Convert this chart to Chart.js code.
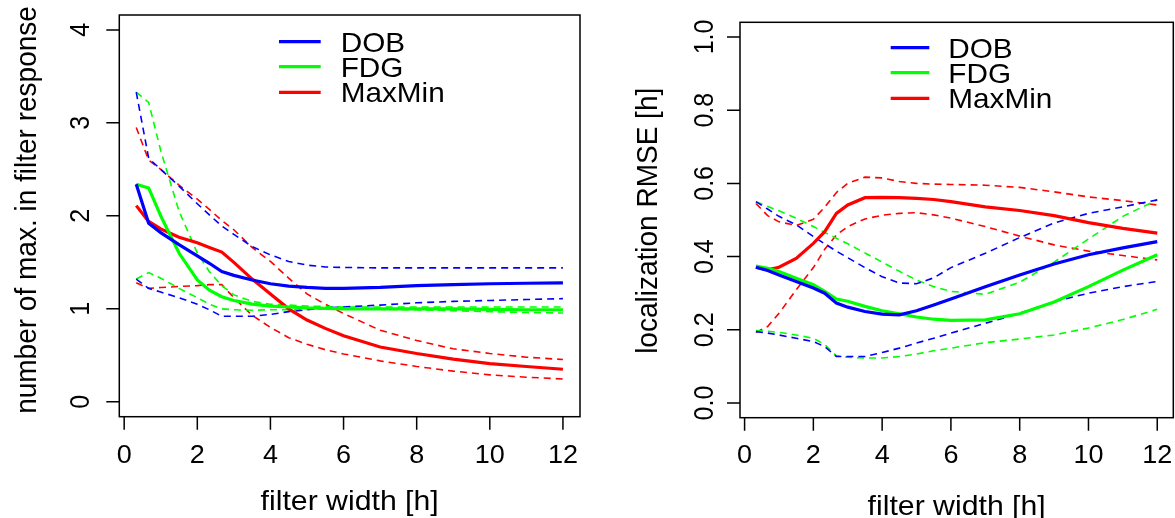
<!DOCTYPE html>
<html>
<head>
<meta charset="utf-8">
<script src="https://cdn.jsdelivr.net/npm/chart.js@4/dist/chart.umd.min.js"></script>
<style>
  html, body { margin: 0; padding: 0; background: #fff; }
  #wrap { position: relative; width: 1175px; height: 518px; overflow: hidden; }
  canvas { position: absolute; top: 0; }
</style>
</head>
<body>
<div id="wrap">
  <canvas id="left" width="600" height="518" style="left:0"></canvas>
  <canvas id="right" width="575" height="518" style="left:600px"></canvas>
</div>
<script>
// filter width [h]
const filterWidth = [0.33, 0.67, 1, 1.5, 2, 2.33, 2.67, 3, 3.5, 4, 4.5, 5, 5.5, 6, 7, 8, 9, 10, 11, 12];

// number of maxima in filter response (mean, upper, lower)
const dobMaxMean = [2.34, 1.92, 1.82, 1.69, 1.57, 1.49, 1.40, 1.36, 1.31, 1.27, 1.245, 1.23, 1.22, 1.22, 1.23, 1.25, 1.26, 1.27, 1.275, 1.28];
const dobMaxHi   = [3.33, 2.62, 2.50, 2.32, 2.13, 2.01, 1.89, 1.80, 1.67, 1.58, 1.51, 1.47, 1.45, 1.445, 1.44, 1.44, 1.44, 1.44, 1.44, 1.44];
const dobMaxLo   = [1.32, 1.22, 1.18, 1.12, 1.05, 0.99, 0.92, 0.92, 0.92, 0.94, 0.97, 0.99, 1.01, 1.02, 1.04, 1.065, 1.08, 1.09, 1.10, 1.11];
const fdgMaxMean = [2.34, 2.30, 2.00, 1.60, 1.31, 1.20, 1.13, 1.09, 1.05, 1.03, 1.02, 1.01, 1.005, 1.0, 1.0, 1.0, 1.0, 0.995, 0.99, 0.99];
const fdgMaxHi   = [3.33, 3.22, 2.70, 2.05, 1.60, 1.40, 1.25, 1.15, 1.08, 1.05, 1.04, 1.03, 1.025, 1.02, 1.02, 1.02, 1.02, 1.02, 1.02, 1.02];
const fdgMaxLo   = [1.32, 1.39, 1.33, 1.22, 1.12, 1.05, 1.0, 0.99, 0.985, 0.99, 0.99, 0.995, 1.0, 1.0, 0.995, 0.99, 0.98, 0.97, 0.96, 0.955];
const mmMaxMean  = [2.11, 1.94, 1.86, 1.77, 1.71, 1.66, 1.61, 1.50, 1.32, 1.16, 1.00, 0.88, 0.79, 0.71, 0.59, 0.52, 0.46, 0.41, 0.38, 0.35];
const mmMaxHi    = [2.95, 2.60, 2.50, 2.33, 2.18, 2.07, 1.95, 1.85, 1.66, 1.51, 1.33, 1.16, 1.05, 0.95, 0.77, 0.66, 0.57, 0.52, 0.48, 0.455];
const mmMaxLo    = [1.28, 1.22, 1.23, 1.24, 1.25, 1.26, 1.26, 1.12, 0.93, 0.80, 0.69, 0.62, 0.56, 0.515, 0.44, 0.38, 0.33, 0.29, 0.265, 0.245];

// localization RMSE [h] (mean, upper, lower)
const dobRmseMean = [0.371, 0.362, 0.350, 0.332, 0.314, 0.300, 0.273, 0.262, 0.250, 0.243, 0.241, 0.252, 0.268, 0.284, 0.318, 0.350, 0.380, 0.405, 0.424, 0.441];
const dobRmseHi   = [0.550, 0.530, 0.510, 0.487, 0.455, 0.435, 0.415, 0.397, 0.370, 0.345, 0.328, 0.326, 0.342, 0.370, 0.409, 0.452, 0.492, 0.518, 0.536, 0.555];
const dobRmseLo   = [0.195, 0.191, 0.186, 0.177, 0.168, 0.154, 0.127, 0.127, 0.127, 0.138, 0.150, 0.164, 0.177, 0.191, 0.218, 0.245, 0.277, 0.300, 0.318, 0.332];
const fdgRmseMean = [0.374, 0.368, 0.359, 0.341, 0.323, 0.305, 0.284, 0.278, 0.264, 0.252, 0.244, 0.235, 0.229, 0.226, 0.227, 0.244, 0.276, 0.318, 0.363, 0.405];
const fdgRmseHi   = [0.550, 0.537, 0.525, 0.505, 0.482, 0.466, 0.450, 0.435, 0.410, 0.385, 0.360, 0.336, 0.318, 0.305, 0.297, 0.330, 0.385, 0.448, 0.510, 0.555];
const fdgRmseLo   = [0.198, 0.196, 0.193, 0.186, 0.177, 0.160, 0.129, 0.125, 0.123, 0.123, 0.127, 0.134, 0.143, 0.150, 0.165, 0.175, 0.186, 0.205, 0.228, 0.256];
const mmRmseMean  = [0.371, 0.364, 0.371, 0.395, 0.436, 0.468, 0.518, 0.541, 0.561, 0.562, 0.561, 0.559, 0.556, 0.550, 0.536, 0.526, 0.512, 0.493, 0.477, 0.464];
const mmRmseHi    = [0.545, 0.512, 0.495, 0.485, 0.502, 0.535, 0.575, 0.600, 0.617, 0.615, 0.605, 0.600, 0.598, 0.597, 0.595, 0.589, 0.577, 0.563, 0.553, 0.541];
const mmRmseLo    = [0.193, 0.209, 0.245, 0.309, 0.370, 0.420, 0.459, 0.482, 0.503, 0.513, 0.518, 0.520, 0.514, 0.505, 0.482, 0.456, 0.432, 0.415, 0.403, 0.391];

const methods = ['DOB', 'FDG', 'MaxMin'];
const colours = ['#0000ff', '#00ff00', '#ff0000'];
const xTicks = [0, 2, 4, 6, 8, 10, 12];
const maxTicks = [0, 1, 2, 3, 4];
const rmseTicks = [0, 0.2, 0.4, 0.6, 0.8, 1.0];

const FONT = "'Liberation Sans', Arial, Helvetica, sans-serif";
const STRETCH = 1.08; // the reference text is a bit wider than tall

// text with a slight horizontal stretch, optionally turned to read upwards
function label(ctx, text, x, y, size, upright) {
  ctx.save();
  ctx.font = size + 'px ' + FONT;
  ctx.translate(x, y);
  ctx.scale(STRETCH, 1);
  if (!upright) ctx.rotate(-Math.PI / 2);
  ctx.fillText(text, 0, 0);
  ctx.restore();
}

// draws R-style box, axes, titles and legend
const rAxes = {
  id: 'rAxes',
  afterDraw(chart, args, o) {
    const ctx = chart.ctx;
    const a = chart.chartArea;
    const xs = chart.scales.x, ys = chart.scales.y;
    ctx.save();
    ctx.strokeStyle = '#000';
    ctx.fillStyle = '#000';
    ctx.lineWidth = 1.5;
    ctx.strokeRect(a.left, a.top, a.right - a.left, a.bottom - a.top);

    // x axis
    ctx.beginPath();
    o.xTicks.forEach(v => {
      const px = xs.getPixelForValue(v);
      ctx.moveTo(px, a.bottom);
      ctx.lineTo(px, a.bottom + 13);
    });
    ctx.stroke();
    ctx.textAlign = 'center';
    ctx.textBaseline = 'alphabetic';
    o.xTicks.forEach(v => label(ctx, String(v), xs.getPixelForValue(v), o.xLabelBase, 25, true));
    label(ctx, o.xTitle, (a.left + a.right) / 2, o.xTitleBase, 28, true);

    // y axis
    ctx.beginPath();
    o.yTicks.forEach(v => {
      const py = ys.getPixelForValue(v);
      ctx.moveTo(a.left, py);
      ctx.lineTo(a.left - 13, py);
    });
    ctx.stroke();
    o.yTicks.forEach(v => label(ctx, v.toFixed(o.yDigits), o.yLabelBase, ys.getPixelForValue(v), 25, false));
    label(ctx, o.yTitle, o.yTitleBase, o.yTitleCenter, 28, false);

    // legend
    ctx.textAlign = 'left';
    ctx.lineWidth = 3.2;
    methods.forEach((m, i) => {
      const ly = o.legendY[i];
      ctx.strokeStyle = colours[i];
      ctx.beginPath();
      ctx.moveTo(o.legendX[0], ly);
      ctx.lineTo(o.legendX[1], ly);
      ctx.stroke();
      label(ctx, m, o.legendX[2], ly + 10, 27.5, true);
    });
    ctx.restore();
  }
};

function series(values, colour, dashed) {
  return {
    data: filterWidth.map((x, i) => ({ x: x, y: values[i] })),
    borderColor: colour,
    borderWidth: dashed ? 1.6 : 3.2,
    borderDash: dashed ? [7, 5] : [],
    pointRadius: 0,
    tension: 0,
    fill: false
  };
}

function makePanel(id, groups, yMin, yMax, padding, axisOpts) {
  const datasets = [];
  groups.forEach((g, i) => datasets.push(series(g[0], colours[i], false)));
  groups.forEach((g, i) => {
    datasets.push(series(g[1], colours[i], true));
    datasets.push(series(g[2], colours[i], true));
  });
  return new Chart(document.getElementById(id).getContext('2d'), {
    type: 'line',
    data: { datasets: datasets },
    options: {
      responsive: false,
      animation: false,
      layout: { padding: padding },
      scales: {
        x: { type: 'linear', min: -0.1333, max: 12.4667, display: false },
        y: { type: 'linear', min: yMin, max: yMax, display: false }
      },
      plugins: {
        legend: { display: false },
        tooltip: { enabled: false },
        rAxes: axisOpts
      }
    },
    plugins: [rAxes]
  });
}

makePanel('left',
  [[dobMaxMean, dobMaxHi, dobMaxLo], [fdgMaxMean, fdgMaxHi, fdgMaxLo], [mmMaxMean, mmMaxHi, mmMaxLo]],
  -0.16, 4.16,
  { left: 119.3, top: 15, right: 20, bottom: 101.3 },
  {
    xTicks: xTicks, xLabelBase: 463, xTitle: 'filter width [h]', xTitleBase: 510,
    yTicks: maxTicks, yDigits: 0, yLabelBase: 89.3,
    yTitle: 'number of max. in filter response', yTitleBase: 36, yTitleCenter: 210,
    legendX: [279, 320.7, 340.7], legendY: [41.7, 66.7, 92.3]
  });

makePanel('right',
  [[dobRmseMean, dobRmseHi, dobRmseLo], [fdgRmseMean, fdgRmseHi, fdgRmseLo], [mmRmseMean, mmRmseHi, mmRmseLo]],
  -0.04, 1.04,
  { left: 140, top: 22.3, right: 1.7, bottom: 100.3 },
  {
    xTicks: xTicks, xLabelBase: 463, xTitle: 'filter width [h]', xTitleBase: 515,
    yTicks: rmseTicks, yDigits: 1, yLabelBase: 113.3,
    yTitle: 'localization RMSE [h]', yTitleBase: 57.4, yTitleCenter: 220.8,
    legendX: [290.7, 329.3, 348.3], legendY: [47.7, 72.7, 98.3]
  });
</script>
</body>
</html>
